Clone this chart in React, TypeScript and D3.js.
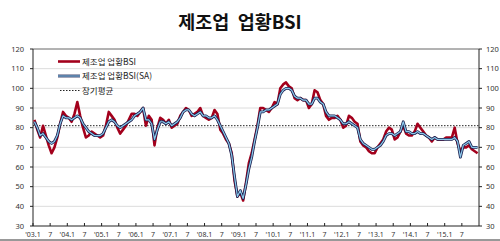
import React from "react";
import * as d3 from "d3";

const title = "제조업  업황BSI";
const seriesNames = ["제조업 업황BSI", "제조업 업황BSI(SA)", "장기평균"];
const longTermAvg = 81;
const yTicks = [30, 40, 50, 60, 70, 80, 90, 100, 110, 120];
const xTickLabels = [
  "'03.1", "7", "'04.1", "7", "'05.1", "7", "'06.1", "7", "'07.1", "7",
  "'08.1", "7", "'09.1", "7", "'10.1", "7", "'11.1", "7", "'12.1", "7",
  "'13.1", "7", "'14.1", "7", "'15.1", "7",
];

// monthly, 2003.1 - 2015.12
const bsi = [
  84, 79, 75, 81, 76, 71, 67, 70, 75, 82, 88, 86,
  85, 83, 87, 93, 86, 80, 75, 76, 78, 77, 76, 75,
  76, 81, 88, 86, 84, 80, 77, 79, 81, 84, 87, 87,
  86, 88, 90, 81, 86, 84, 71, 80, 85, 84, 82, 84,
  80, 81, 82, 86, 88, 90, 89, 86, 87, 88, 90, 86,
  85, 84, 85, 89, 87, 79, 77, 74, 72, 67, 53, 45,
  47, 43, 52, 62, 67, 74, 81, 90, 90, 89, 88, 90,
  93, 92, 100, 102, 103, 101, 100, 95, 94, 95, 94, 94,
  90, 92, 99, 98, 94, 92, 86, 84, 85, 85, 86, 84,
  80, 81, 86, 85, 83, 82, 73, 71, 70, 68, 67, 67,
  70, 72, 74, 78, 80, 79, 74, 75, 78, 81, 77, 76,
  76, 78, 82, 80, 78, 76, 75, 73, 75, 74, 74, 74,
  75, 75, 75, 80, 72, 68, 70, 70, 71, 69, 68, 67,
];

const bsiSA = [
  83, 80, 76, 77, 75, 73, 72, 73, 76, 82, 86, 85,
  85, 84, 85, 86, 85, 82, 80, 78, 77, 76, 76, 76,
  77, 80, 83, 84, 83, 81, 80, 81, 82, 83, 84, 86,
  87, 88, 90, 84, 84, 82, 74, 79, 83, 83, 82, 83,
  81, 82, 83, 85, 88, 89, 89, 87, 86, 87, 88, 86,
  86, 85, 85, 86, 84, 81, 78, 75, 72, 66, 55, 45,
  48, 44, 51, 59, 65, 73, 80, 88, 88, 89, 89, 90,
  91, 92, 97, 99, 100, 100, 99, 96, 95, 95, 94, 94,
  92, 92, 95, 95, 93, 92, 88, 86, 86, 86, 85, 84,
  82, 82, 83, 82, 81, 80, 74, 72, 71, 70, 69, 69,
  70, 71, 73, 76, 77, 77, 76, 77, 78, 83, 78, 78,
  77, 77, 78, 77, 77, 76, 75, 74, 75, 74, 74, 74,
  74, 74, 74, 75, 73, 65, 71, 72, 73, 70, 70, 70,
];

const W = 500;
const H = 241;
const left = 33;
const right = 479;
const top = 49;
const bottom = 226;

export default function App() {
  const x = d3.scaleLinear().domain([0, bsi.length]).range([left, right]);
  const y = d3.scaleLinear().domain([30, 120]).range([bottom, top]);
  const line = d3
    .line<number>()
    .x((_, i) => x(i + 0.5))
    .y((d) => y(d));
  const numFont = "'Noto Sans', sans-serif";
  const krFont = "'Noto Sans CJK KR', sans-serif";
  return (
    <svg
      width={W}
      height={H}
      style={{ position: "absolute", left: 0, top: 0, background: "#fff" }}
    >
      <text
        x={240}
        y={29}
        textAnchor="middle"
        fontFamily={krFont}
        fontWeight="bold"
        fontSize={18.5}
        fill="#111"
        style={{ whiteSpace: "pre" }}
      >
        {title}
      </text>
      {/* gridlines */}
      {yTicks
        .filter((t) => t > 30 && t < 120)
        .map((t) => (
          <line key={t} x1={left} x2={right} y1={y(t)} y2={y(t)} stroke="#dcdcdc" strokeWidth={1} />
        ))}
      <line x1={left} x2={right} y1={y(120)} y2={y(120)} stroke="#666" strokeWidth={1} />
      {/* axes */}
      <line x1={left} x2={left} y1={top} y2={bottom} stroke="#222" strokeWidth={1} />
      <line x1={right} x2={right} y1={top} y2={bottom} stroke="#222" strokeWidth={1} />
      <line x1={left} x2={right} y1={bottom} y2={bottom} stroke="#222" strokeWidth={1} />
      {yTicks.map((t) => (
        <g key={"yt" + t}>
          <line x1={left - 3} x2={left} y1={y(t)} y2={y(t)} stroke="#222" />
          <line x1={right} x2={right + 3} y1={y(t)} y2={y(t)} stroke="#222" />
          <text x={24} y={y(t) + 2.8} textAnchor="end" fontFamily={numFont} fontSize={7.5} fill="#333">
            {t}
          </text>
          <text x={486} y={y(t) + 2.8} textAnchor="start" fontFamily={numFont} fontSize={7.5} fill="#333">
            {t}
          </text>
        </g>
      ))}
      {xTickLabels.map((lab, k) => (
        <g key={"xt" + k}>
          <line x1={x(k * 6)} x2={x(k * 6)} y1={bottom - 3} y2={bottom} stroke="#222" />
          <text
            x={x(k * 6)}
            y={237}
            textAnchor="middle"
            fontFamily={numFont}
            fontSize={7}
            fill="#333"
          >
            {lab}
          </text>
        </g>
      ))}
      {/* long-term average */}
      <line
        x1={left}
        x2={right}
        y1={y(longTermAvg)}
        y2={y(longTermAvg)}
        stroke="#222"
        strokeWidth={1}
        strokeDasharray="1.5,1.5"
      />
      {/* series */}
      <path d={line(bsi) || ""} fill="none" stroke="#a3001c" strokeWidth={2.6} strokeLinejoin="round" />
      <path d={line(bsiSA) || ""} fill="none" stroke="#1b1f4f" strokeWidth={2.8} strokeLinejoin="round" />
      <path d={line(bsiSA) || ""} fill="none" stroke="#8cc8ea" strokeWidth={1.2} strokeLinejoin="round" />
      {/* legend */}
      <line x1={58} x2={80} y1={61.5} y2={61.5} stroke="#a3001c" strokeWidth={2.6} />
      <line x1={58} x2={80} y1={76} y2={76} stroke="#1b1f4f" strokeWidth={2.8} />
      <line x1={58} x2={80} y1={76} y2={76} stroke="#8cc8ea" strokeWidth={1.2} />
      <line x1={60} x2={80} y1={90.5} y2={90.5} stroke="#222" strokeWidth={1} strokeDasharray="1.5,1.5" />
      {seriesNames.map((n, i) => (
        <text key={n} x={82} y={64.5 + i * 14.5} fontFamily={krFont} fontSize={8.5} fill="#222">
          {n}
        </text>
      ))}
      <line x1={0} x2={W} y1={240} y2={240} stroke="#333" strokeWidth={1} />
    </svg>
  );
}
